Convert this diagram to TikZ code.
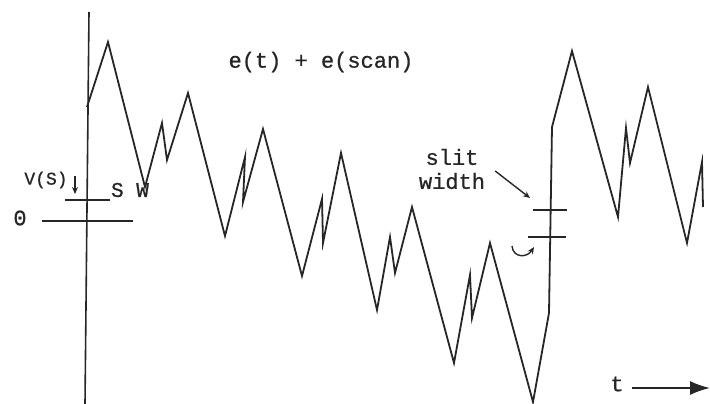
\documentclass[tikz,border=0pt]{standalone}
\usepackage{fontspec}
\setmainfont[FakeBold=0.8,AutoFakeBold=0.8]{Liberation Mono}
\usetikzlibrary{arrows.meta}

\begin{document}
\begin{tikzpicture}[x=1pt,y=-1pt,
  trazo/.style={line width=1.8pt,color=black!85,line join=miter,miter limit=20},
  raya/.style={line width=1.6pt,color=black!85},
  et/.style={inner sep=0pt,text=black!85,font=\fontsize{22}{26}\selectfont\bfseries},
  chico/.style={et,font=\fontsize{18}{20}\selectfont\bfseries},
  fl/.style={-{Stealth[length=7pt,width=6pt]},line width=1.4pt,black!85},
  ft/.style={-{Latex[length=20pt,width=14pt]},line width=1.8pt,black!85}]
  \useasboundingbox (0,0) rectangle (710,404);

  % ejes y marcas
  \draw[raya] (89,12) -- (85,404);
  \draw[raya] (65,200) -- (110,200);
  \draw[raya] (42,221) -- (133,221);
  \draw[raya] (533,210) -- (567,210);
  \draw[raya] (528,237) -- (566,237);

  % senal
  \draw[trazo] (87,107) -- (108,42) -- (145,187) -- (162,123) -- (167,160)
    -- (188,93) -- (225,236) -- (245,157) -- (243,202) -- (263,129)
    -- (302,276) -- (322,199) -- (323,243) -- (341,153) -- (377,310)
    -- (390,237) -- (395,273) -- (412,207) -- (454,363) -- (470,275)
    -- (472,318) -- (490,243) -- (533,402) -- (549,313) -- (552,127)
    -- (572,51) -- (618,217) -- (626,128) -- (630,163) -- (648,87)
    -- (687,243) -- (702,162) -- (703,207);

  % textos
  \node[et] (tit) at (321,62) {e(t) + e(scan)};
  \node[chico] (vs) at (46,180) {V(S)};
  \node[et,font=\fontsize{21}{22}\selectfont\bfseries] (sw) at (130,190) {S W};
  \node[et] (cero) at (20,218) {0};
  \node[et,align=center] (slit) at (452,169) {slit\\[-2pt]width};
  \node[et] (t) at (617,384) {t};

  \coordinate (vsp) at (75,194);
  \coordinate (tk) at (530,198);
  \coordinate (tfin) at (710,388);

  \draw[fl] (75,176) -- (vsp);
  \draw[fl] (slit.east) ++(10,2) -- (tk);
  \draw[fl] (512,246) .. controls (513,258) and (527,258) .. (534,247);
  \draw[ft] (t.east) ++(8,4) -- (tfin);
\end{tikzpicture}
\end{document}
